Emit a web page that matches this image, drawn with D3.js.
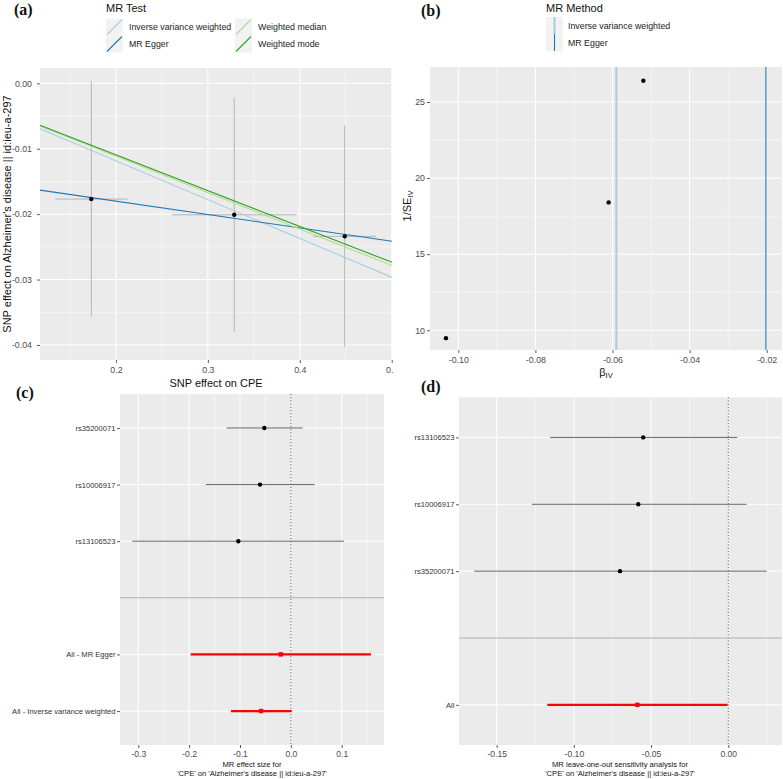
<!DOCTYPE html>
<html><head><meta charset="utf-8">
<script src="https://cdn.jsdelivr.net/npm/d3@7"></script>
<style>body{margin:0;background:#fff}svg{display:block}</style>
</head><body><script>
// ---------------- Panel (a): scatter ----------------
const snpA = ["rs13106523","rs10006917","rs35200071"];
const bxA = [0.1732,0.3287,0.4489];
const bxSeA = [0.0393,0.0678,0.0341];
const byA = [-0.0177,-0.0201,-0.0234];
const bySeA = [0.0180,0.0179,0.0169];
const methodsA = ["Inverse variance weighted","MR Egger","Weighted median","Weighted mode"];
const slopeA = [-0.0593,-0.0204,-0.0557,-0.0547];
const interceptA = [0,-0.01394,0,0];
const colorsA = ["#A6CEE3","#1F78B4","#B2DF8A","#33A02C"];
const xTicksA = [0.2,0.3,0.4,0.5];
const xMinorA = [0.15,0.25,0.35,0.45];
const yTicksA = [0,-0.01,-0.02,-0.03,-0.04];
const yMinorA = [-0.005,-0.015,-0.025,-0.035];

// ---------------- Panel (b): funnel ----------------
const betaIV = [-0.1032,-0.0610,-0.0520];
const invSeIV = [9.48,18.4,26.4];
const methodsB = ["Inverse variance weighted","MR Egger"];
const estB = [-0.0590,-0.0202];
const colorsB = ["#A6CEE3","#1F78B4"];
const widthsB = [2,1.1];
const xTicksB = [-0.10,-0.08,-0.06,-0.04,-0.02];
const xMinorB = [-0.09,-0.07,-0.05,-0.03];
const yTicksB = [10,15,20,25];
const yMinorB = [12.5,17.5,22.5];

// ---------------- Panel (c): forest ----------------
const rowsC = ["rs35200071","rs10006917","rs13106523","","All - MR Egger","All - Inverse variance weighted"];
const bC  = [-0.0522,-0.0607,-0.1033,null,-0.0197,-0.0585];
const loC = [-0.1262,-0.1675,-0.3118,null,-0.1970,-0.1177];
const hiC = [0.0233,0.0469,0.1045,null,0.1576,0.0016];
const summaryC = [false,false,false,false,true,true];
const xTicksC = [-0.3,-0.2,-0.1,0.0,0.1];
const xMinorC = [-0.25,-0.15,-0.05,0.05,0.15];

// ---------------- Panel (d): leave-one-out ----------------
const rowsD = ["rs13106523","rs10006917","rs35200071","","All"];
const bD  = [-0.0551,-0.0583,-0.0701,null,-0.0589];
const loD = [-0.1155,-0.1273,-0.1645,null,-0.1172];
const hiD = [0.0058,0.0119,0.0249,null,-0.0004];
const summaryD = [false,false,false,false,true];
const xTicksD = [-0.15,-0.10,-0.05,0.00];
const xMinorD = [-0.125,-0.075,-0.025,0.025];

const FONT = '"Liberation Sans", Arial, Helvetica, sans-serif';
const SERIF = '"Liberation Serif", "Times New Roman", serif';
const BG = "#EBEBEB";

const svg = d3.select("body").append("svg").attr("width",783).attr("height",779)
  .style("font-family", FONT);
svg.append("rect").attr("width",783).attr("height",779).attr("fill","#fff");

function panelBg(g, x, y, xMajor, xMinor, yMajor, yMinor){
  const [x0,x1] = x.range(); const r = y.range(); const y0 = Math.min(...r), y1 = Math.max(...r);
  g.append("rect").attr("x",x0).attr("y",y0).attr("width",x1-x0).attr("height",y1-y0).attr("fill",BG);
  const gl = g.append("g");
  xMinor.forEach(v=>gl.append("line").attr("x1",x(v)).attr("x2",x(v)).attr("y1",y0).attr("y2",y1).attr("stroke","#fff").attr("stroke-width",0.5));
  yMinor.forEach(v=>gl.append("line").attr("y1",y(v)).attr("y2",y(v)).attr("x1",x0).attr("x2",x1).attr("stroke","#fff").attr("stroke-width",0.5));
  xMajor.forEach(v=>gl.append("line").attr("x1",x(v)).attr("x2",x(v)).attr("y1",y0).attr("y2",y1).attr("stroke","#fff").attr("stroke-width",1));
  yMajor.forEach(v=>gl.append("line").attr("y1",y(v)).attr("y2",y(v)).attr("x1",x0).attr("x2",x1).attr("stroke","#fff").attr("stroke-width",1));
}
function styleAxis(sel, size){
  sel.select(".domain").remove();
  sel.selectAll(".tick line").attr("stroke","#333").attr("stroke-width",0.8);
  sel.selectAll(".tick text").attr("fill","#4D4D4D").attr("font-size",size).attr("font-family",FONT);
}
function label(txt, x, y){
  svg.append("text").attr("x",x).attr("y",y).attr("font-family",SERIF).attr("font-weight","bold")
    .attr("font-size",16).attr("fill","#111").text(txt);
}

// ======== Panel (a) ========
{
  svg.append("clipPath").attr("id","clipA").append("rect").attr("x",0).attr("y",0).attr("width",393).attr("height",392);
  const g = svg.append("g").attr("clip-path","url(#clipA)");
  const x = d3.scaleLinear().domain([0.1174,0.5003]).range([40,392]);
  const y = d3.scaleLinear().domain([-0.0423,0.00234]).range([360,68]);
  panelBg(g,x,y,xTicksA,xMinorA,yTicksA,yMinorA);
  // error bars
  snpA.forEach((s,i)=>{
    g.append("line").attr("x1",x(bxA[i])).attr("x2",x(bxA[i])).attr("y1",y(byA[i]-bySeA[i])).attr("y2",y(byA[i]+bySeA[i]))
      .attr("stroke","#B3B3B3").attr("stroke-width",1);
    g.append("line").attr("x1",x(bxA[i]-bxSeA[i])).attr("x2",x(bxA[i]+bxSeA[i])).attr("y1",y(byA[i])).attr("y2",y(byA[i]))
      .attr("stroke","#B3B3B3").attr("stroke-width",1);
  });
  // regression lines
  const [dx0,dx1] = x.domain();
  methodsA.forEach((m,i)=>{
    g.append("line").attr("x1",x(dx0)).attr("x2",x(dx1))
      .attr("y1",y(interceptA[i]+slopeA[i]*dx0)).attr("y2",y(interceptA[i]+slopeA[i]*dx1))
      .attr("stroke",colorsA[i]).attr("stroke-width",1.1);
  });
  snpA.forEach((s,i)=>{
    g.append("circle").attr("cx",x(bxA[i])).attr("cy",y(byA[i])).attr("r",2.2).attr("fill","#000");
  });
  const ax = g.append("g").attr("transform","translate(0,360)")
    .call(d3.axisBottom(x).tickValues(xTicksA).tickSize(3).tickPadding(4).tickFormat(d=>d.toFixed(1)));
  styleAxis(ax,8.8);
  const ay = g.append("g").attr("transform","translate(40,0)")
    .call(d3.axisLeft(y).tickValues(yTicksA).tickSize(3).tickPadding(5).tickFormat(d=>d.toFixed(2)));
  styleAxis(ay,8.8);
  g.append("text").attr("x",216).attr("y",387).attr("text-anchor","middle").attr("font-size",11).attr("fill","#111").text("SNP effect on CPE");
  g.append("text").attr("transform","translate(11,214) rotate(-90)").attr("text-anchor","middle").attr("font-size",11).attr("fill","#111")
    .text("SNP effect on Alzheimer's disease || id:ieu-a-297");
  // legend
  g.append("text").attr("x",106).attr("y",11.5).attr("font-size",11).attr("fill","#111").text("MR Test");
  methodsA.forEach((m,i)=>{
    const col = Math.floor(i/2), row = i%2;
    const kx = col===0?106:235, ky = 18.5+row*17;
    g.append("rect").attr("x",kx).attr("y",ky).attr("width",17).attr("height",17).attr("fill","#F2F2F2");
    g.append("line").attr("x1",kx+1).attr("y1",ky+16).attr("x2",kx+16).attr("y2",ky+1).attr("stroke",colorsA[i]).attr("stroke-width",1.1);
    g.append("text").attr("x",kx+23).attr("y",ky+8.5).attr("dy","0.35em").attr("font-size",8.8).attr("fill","#222").text(m);
  });
}
label("(a)",14,15);

// ======== Panel (b) ========
{
  const g = svg.append("g");
  const x = d3.scaleLinear().domain([-0.10734,-0.01603]).range([430,782]);
  const y = d3.scaleLinear().domain([8.70,27.3]).range([350,67]);
  panelBg(g,x,y,xTicksB,xMinorB,yTicksB,yMinorB);
  methodsB.forEach((m,i)=>{
    g.append("line").attr("x1",x(estB[i])).attr("x2",x(estB[i])).attr("y1",67).attr("y2",350)
      .attr("stroke",colorsB[i]).attr("stroke-width",widthsB[i]);
  });
  betaIV.forEach((b,i)=>{
    g.append("circle").attr("cx",x(b)).attr("cy",y(invSeIV[i])).attr("r",2.2).attr("fill","#000");
  });
  const ax = g.append("g").attr("transform","translate(0,350)")
    .call(d3.axisBottom(x).tickValues(xTicksB).tickSize(3).tickPadding(4).tickFormat(d=>d.toFixed(2)));
  styleAxis(ax,8.8);
  const ay = g.append("g").attr("transform","translate(430,0)")
    .call(d3.axisLeft(y).tickValues(yTicksB).tickSize(3).tickPadding(2).tickFormat(d=>String(d)));
  styleAxis(ay,8.8);
  const xt = g.append("text").attr("x",606).attr("y",376).attr("text-anchor","middle").attr("font-size",11).attr("fill","#111");
  xt.append("tspan").text("β");
  xt.append("tspan").attr("font-size",7.5).attr("dy",2).text("IV");
  const yt = g.append("text").attr("transform","translate(411,206) rotate(-90)").attr("text-anchor","middle").attr("font-size",11).attr("fill","#111");
  yt.append("tspan").text("1/SE");
  yt.append("tspan").attr("font-size",7.5).attr("dy",2).text("IV");
  // legend
  g.append("text").attr("x",546).attr("y",11.5).attr("font-size",11).attr("fill","#111").text("MR Method");
  methodsB.forEach((m,i)=>{
    const kx = 546, ky = 17+i*17;
    g.append("rect").attr("x",kx).attr("y",ky).attr("width",17).attr("height",17).attr("fill","#F2F2F2");
    g.append("line").attr("x1",kx+8.5).attr("x2",kx+8.5).attr("y1",ky).attr("y2",ky+17).attr("stroke",colorsB[i]).attr("stroke-width",widthsB[i]);
    g.append("text").attr("x",kx+22).attr("y",ky+8.5).attr("dy","0.35em").attr("font-size",8.8).attr("fill","#222").text(m);
  });
}
label("(b)",421,16);

// ======== Forest helper ========
function forest(rows, b, lo, hi, summ, xDomain, xRange, yRange, xTicks, xMinor, titleLines, titleX){
  const g = svg.append("g");
  const x = d3.scaleLinear().domain(xDomain).range(xRange);
  const y = d3.scalePoint().domain(d3.range(rows.length)).range(yRange).padding(0.6);
  panelBg(g,x,y,xTicks,xMinor,[],[]);
  rows.forEach((r,i)=>{
    g.append("line").attr("x1",xRange[0]).attr("x2",xRange[1]).attr("y1",y(i)).attr("y2",y(i)).attr("stroke","#fff").attr("stroke-width",1);
  });
  // dotted zero line
  g.append("line").attr("x1",x(0)).attr("x2",x(0)).attr("y1",yRange[0]).attr("y2",yRange[1])
    .attr("stroke","#333").attr("stroke-width",0.8).attr("stroke-dasharray","1.2,2");
  // separator
  rows.forEach((r,i)=>{
    if(r==="") g.append("line").attr("x1",xRange[0]).attr("x2",xRange[1]).attr("y1",y(i)).attr("y2",y(i)).attr("stroke","#A6A6A6").attr("stroke-width",1);
  });
  rows.forEach((r,i)=>{
    if(b[i]===null) return;
    if(summ[i]){
      g.append("line").attr("x1",x(lo[i])).attr("x2",x(hi[i])).attr("y1",y(i)).attr("y2",y(i)).attr("stroke","#FF0000").attr("stroke-width",2.2);
      g.append("rect").attr("x",x(b[i])-2.2).attr("y",y(i)-2.2).attr("width",4.4).attr("height",4.4).attr("fill","#FF0000");
    } else {
      g.append("line").attr("x1",x(lo[i])).attr("x2",x(hi[i])).attr("y1",y(i)).attr("y2",y(i)).attr("stroke","#555").attr("stroke-width",0.9);
      g.append("circle").attr("cx",x(b[i])).attr("cy",y(i)).attr("r",2.2).attr("fill","#000");
    }
  });
  const ax = g.append("g").attr("transform",`translate(0,${yRange[1]})`)
    .call(d3.axisBottom(x).tickValues(xTicks).tickSize(3).tickPadding(2.5).tickFormat(d=>d.toFixed(xTicks.some(t=>Math.abs(t*10-Math.round(t*10))>1e-9)?2:1)));
  styleAxis(ax,8.6);
  const ay = g.append("g").attr("transform",`translate(${xRange[0]},0)`)
    .call(d3.axisLeft(y).tickValues(d3.range(rows.length).filter(i=>rows[i]!=="")).tickSize(3).tickPadding(1.5).tickFormat(i=>rows[i]));
  styleAxis(ay,7.6);
  ay.selectAll(".tick text").attr("fill","#333");
  titleLines.forEach((t,k)=>{
    g.append("text").attr("x",titleX).attr("y",767+k*8.8).attr("text-anchor","middle").attr("font-size",7.6).attr("fill","#111").text(t);
  });
}
forest(rowsC,bC,loC,hiC,summaryC,[-0.336,0.1832],[120,384],[394,745],xTicksC,xMinorC,
  ["MR effect size for","'CPE' on 'Alzheimer's disease || id:ieu-a-297'"],252);
label("(c)",16,398);
forest(rowsD,bD,loD,hiD,summaryD,[-0.1744,0.0348],[459,782],[397.3,745],xTicksD,xMinorD,
  ["MR leave-one-out sensitivity analysis for","'CPE' on 'Alzheimer's disease || id:ieu-a-297'"],620);
label("(d)",421,392);
</script></body></html>
